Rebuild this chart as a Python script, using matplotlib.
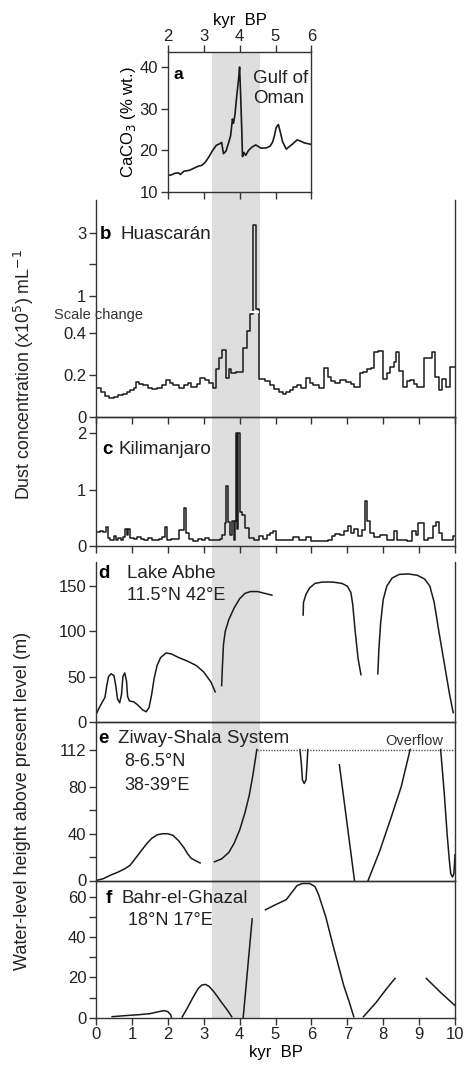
import numpy as np
import matplotlib
matplotlib.use("Agg")
import matplotlib.pyplot as plt
from matplotlib.patches import Rectangle
from matplotlib.transforms import blended_transform_factory

plt.rcParams['font.family'] = ['Liberation Sans', 'DejaVu Sans']

# ---------------- data ----------------
# a: Gulf of Oman CaCO3 (% wt.)
oman_age = [2.0, 2.1, 2.2, 2.3, 2.35, 2.45, 2.6, 2.75, 2.85, 2.95, 3.05, 3.15, 3.25, 3.35, 3.45, 3.5,
            3.55, 3.62, 3.7, 3.75, 3.8, 3.83, 3.87, 3.92, 3.97, 4.0, 4.03, 4.06, 4.08, 4.12, 4.17,
            4.25, 4.35, 4.45, 4.6, 4.75, 4.85, 4.92, 4.97, 5.02, 5.08, 5.13, 5.2, 5.3, 5.4, 5.5,
            5.6, 5.7, 5.8, 5.9, 6.0]
oman_caco3 = [14.0, 14.1, 14.5, 14.6, 14.2, 15.0, 15.2, 15.8, 16.2, 16.4, 17.2, 18.5, 20.0, 21.2, 21.6, 21.9,
              19.2, 19.8, 22.0, 23.5, 27.5, 26.5, 28.5, 33.0, 37.0, 40.0, 33.0, 25.0, 18.5, 19.5, 18.8,
              20.0, 20.8, 21.3, 20.5, 20.6, 21.0, 22.0, 23.5, 25.5, 26.2, 24.5, 22.0, 20.3, 21.0, 21.7,
              22.5, 22.2, 21.8, 21.6, 21.4]

# b: Huascaran dust (step starts)
huas_age = [0.0, 0.15, 0.25, 0.35, 0.5, 0.6, 0.75, 0.85, 0.95, 1.05, 1.12, 1.2, 1.3, 1.45, 1.55, 1.7,
            1.85, 1.95, 2.05, 2.15, 2.3, 2.45, 2.55, 2.65, 2.8, 2.9, 3.05, 3.15, 3.25, 3.33, 3.42,
            3.52, 3.62, 3.7, 3.77, 3.9, 4.1, 4.2, 4.3, 4.37, 4.45, 4.55, 4.7, 4.85, 4.95, 5.1,
            5.2, 5.3, 5.4, 5.5, 5.6, 5.72, 5.85, 5.95, 6.05, 6.2, 6.35, 6.45, 6.55, 6.65, 6.8,
            6.95, 7.1, 7.2, 7.35, 7.45, 7.55, 7.65, 7.75, 7.85, 8.0, 8.1, 8.2, 8.3, 8.35, 8.45,
            8.55, 8.65, 8.75, 8.85, 8.95, 9.15, 9.3, 9.35, 9.45, 9.55, 9.65, 9.75, 9.85, 10.0]
huas_dust = [0.14, 0.12, 0.10, 0.09, 0.095, 0.105, 0.11, 0.12, 0.13, 0.14, 0.165, 0.155, 0.15, 0.14,
             0.135, 0.14, 0.15, 0.175, 0.16, 0.15, 0.14, 0.15, 0.16, 0.145, 0.155, 0.185, 0.175,
             0.16, 0.14, 0.23, 0.28, 0.32, 0.185, 0.23, 0.21, 0.215, 0.33, 0.41, 0.49, 3.25, 0.6,
             0.18, 0.17, 0.15, 0.135, 0.12, 0.11, 0.12, 0.13, 0.145, 0.15, 0.14, 0.185, 0.16, 0.15,
             0.14, 0.235, 0.19, 0.17, 0.16, 0.175, 0.165, 0.155, 0.145, 0.21, 0.215, 0.23, 0.235,
             0.31, 0.315, 0.18, 0.21, 0.24, 0.26, 0.31, 0.22, 0.145, 0.17, 0.175, 0.155, 0.145,
             0.28, 0.28, 0.31, 0.19, 0.13, 0.18, 0.145, 0.24, 0.24]

# c: Kilimanjaro dust (step starts)
kili_age = [0.0, 0.1, 0.2, 0.28, 0.33, 0.4, 0.5, 0.55, 0.62, 0.7, 0.75, 0.8, 0.85, 0.88, 0.95, 1.05,
            1.15, 1.25, 1.35, 1.45, 1.55, 1.65, 1.75, 1.85, 1.92, 1.98, 2.1, 2.2, 2.3, 2.45, 2.52,
            2.6, 2.7, 2.85, 2.95, 3.05, 3.15, 3.3, 3.45, 3.52, 3.58, 3.62, 3.68, 3.74, 3.78, 3.84,
            3.87, 3.9, 3.94, 3.96, 4.0, 4.08, 4.15, 4.25, 4.4, 4.55, 4.65, 4.75, 4.85, 4.93, 5.0,
            5.15, 5.3, 5.5, 5.65, 5.85, 6.0, 6.2, 6.45, 6.58, 6.65, 6.8, 6.92, 7.02, 7.1, 7.2,
            7.3, 7.4, 7.5, 7.56, 7.63, 7.75, 7.9, 8.1, 8.3, 8.38, 8.5, 8.65, 8.8, 8.9, 8.97,
            9.15, 9.25, 9.4, 9.48, 9.55, 9.65, 9.8, 9.95, 10.0]
kili_dust = [0.25, 0.27, 0.25, 0.34, 0.15, 0.11, 0.17, 0.10, 0.14, 0.10, 0.16, 0.30, 0.20, 0.30, 0.14,
             0.12, 0.16, 0.12, 0.10, 0.14, 0.11, 0.10, 0.13, 0.16, 0.34, 0.11, 0.13, 0.12, 0.28,
             0.68, 0.23, 0.13, 0.08, 0.13, 0.10, 0.14, 0.10, 0.10, 0.12, 0.20, 0.41, 1.07, 0.43,
             0.20, 0.45, 0.10, 0.45, 2.0, 0.30, 2.0, 0.61, 0.55, 0.32, 0.14, 0.10, 0.17, 0.13,
             0.20, 0.23, 0.27, 0.11, 0.10, 0.11, 0.16, 0.10, 0.16, 0.08, 0.09, 0.10, 0.17, 0.22,
             0.20, 0.26, 0.35, 0.23, 0.30, 0.17, 0.28, 0.80, 0.45, 0.23, 0.16, 0.20, 0.10, 0.27,
             0.10, 0.11, 0.08, 0.27, 0.20, 0.41, 0.11, 0.14, 0.35, 0.43, 0.23, 0.11, 0.10, 0.17, 0.17]

# d: Lake Abhe (segments)
abhe_age = [
    [0.0, 0.11, 0.25, 0.3, 0.35, 0.42, 0.5, 0.55, 0.6, 0.66, 0.71, 0.75, 0.8, 0.85, 0.88, 0.93, 1.05,
     1.15, 1.3, 1.4, 1.48, 1.55, 1.62, 1.7, 1.8, 1.95, 2.1, 2.3, 2.55, 2.8, 3.0, 3.2, 3.32],
    [3.5, 3.52, 3.55, 3.6, 3.7, 3.85, 4.0, 4.15, 4.3, 4.5, 4.7, 4.9],
    [5.77, 5.78, 5.85, 5.95, 6.1, 6.3, 6.6, 6.85, 7.0, 7.1, 7.15, 7.22, 7.3, 7.38],
    [7.85, 7.88, 7.93, 8.0, 8.1, 8.25, 8.45, 8.7, 8.95, 9.15, 9.3, 9.42, 9.55, 9.7, 9.85, 9.95],
]
abhe_level = [
    [8, 17, 27, 40, 50, 53, 51, 40, 25, 21, 30, 50, 54, 45, 28, 23, 22,
     19, 13, 11, 16, 30, 48, 62, 71, 76, 75, 71, 67, 62, 55, 44, 33],
    [40, 60, 85, 100, 113, 126, 136, 142, 144, 144, 142, 140],
    [118, 132, 141, 148, 153, 154.5, 154.5, 153, 150, 143, 130, 100, 70, 52],
    [53, 80, 110, 135, 150, 159, 163, 163.5, 162, 158, 150, 132, 100, 65, 30, 10],
]

# e: Ziway-Shala (segments)
ziway_age = [
    [0.0, 0.2, 0.4, 0.6, 0.8, 0.95, 1.1, 1.25, 1.4, 1.55, 1.7, 1.85, 2.0, 2.15, 2.3, 2.45, 2.55,
     2.65, 2.8, 2.9],
    [3.3, 3.5, 3.7, 3.85, 4.0, 4.15, 4.27, 4.37, 4.45, 4.48],
    [5.68, 5.72, 5.75, 5.8, 5.85, 5.88, 5.9],
    [6.78, 7.2],
    [7.58, 7.9, 8.2, 8.5, 8.75],
    [9.6, 9.7, 9.78, 9.84, 9.88, 9.93, 9.97, 10.0],
]
ziway_level = [
    [0, 1.5, 4.5, 7, 10, 13, 19, 25, 31, 36, 39, 40, 40, 38.5, 34, 28, 23, 19, 16.5, 15],
    [16, 18.5, 24, 32, 43, 58, 73, 90, 106, 112],
    [112, 100, 86, 83, 86, 100, 112],
    [99, 0],
    [0, 25, 52, 80, 112],
    [112, 75, 40, 18, 6, 3, 6, 22],
]
overflow_level = 112
overflow_start = 4.48

# f: Bahr-el-Ghazal (segments)
bahr_age = [
    [0.45, 0.8, 1.2, 1.5, 1.75, 1.9, 2.0, 2.08, 2.1],
    [2.4, 2.55, 2.7, 2.85, 2.95, 3.05, 3.15, 3.3, 3.5, 3.65, 3.78],
    [4.1, 4.35],
    [4.72, 5.0, 5.3, 5.45, 5.6, 5.75, 5.95, 6.1, 6.2, 6.4, 6.6, 6.75, 6.9, 7.05, 7.18],
    [7.45, 7.8, 8.1, 8.33],
    [9.2, 9.6, 10.0],
]
bahr_level = [
    [0.5, 1.0, 1.5, 2.0, 3.0, 3.5, 3.0, 1.5, 0.3],
    [0.3, 5, 10, 14.5, 16.2, 16.5, 15.5, 12.5, 7.5, 4, 0.5],
    [0, 49],
    [53.5, 56, 58.5, 62, 65.5, 66.5, 66.5, 65, 61, 50, 36, 26, 16, 8, 0.5],
    [0.5, 7.5, 14.5, 19.5],
    [19.5, 12.5, 6],
]

shade_start, shade_end = 3.22, 4.56

# ---------------- figure ----------------
W, H = 465, 1074
fig = plt.figure(figsize=(W / 100, H / 100), dpi=100)

def box(l, r, t, b):
    return [l / W, 1 - b / H, (r - l) / W, (b - t) / H]

LINE = '#1a1a1a'
SPINE = '#333333'
TXT = '#222222'
TICKFS = 12
LABFS = 13.5
LW = 1.1

def style(ax):
    ax.set_facecolor('none')
    for s in ax.spines.values():
        s.set_color(SPINE)
        s.set_linewidth(1.0)
    ax.tick_params(direction='out', length=5, width=1.0, color=SPINE, labelsize=TICKFS,
                   labelcolor=TXT, pad=2)

XL, XR = 96, 455
ax_a = fig.add_axes(box(167.8, 311.4, 52, 192))
ax_b = fig.add_axes(box(XL, XR, 200, 417))
ax_c = fig.add_axes(box(XL, XR, 417, 546))
ax_d = fig.add_axes(box(XL, XR, 562, 721.7))
ax_e = fig.add_axes(box(XL, XR, 721.7, 880.5))
ax_f = fig.add_axes(box(XL, XR, 880.5, 1017.7))
for ax in (ax_a, ax_b, ax_c, ax_d, ax_e, ax_f):
    style(ax)

# shaded band across all panels
trans = blended_transform_factory(ax_f.transData, fig.transFigure)
fig.add_artist(Rectangle((shade_start, 1 - 1017.7 / H), shade_end - shade_start,
                         (1017.7 - 52) / H, transform=trans, facecolor='#dedede',
                         edgecolor='none', zorder=-5))

# ---- panel a ----
ax_a.plot(oman_age, oman_caco3, color=LINE, lw=1.2)
ax_a.set_xlim(2, 6)
ax_a.set_ylim(10, 43.6)
ax_a.set_yticks([10, 20, 30, 40])
ax_a.set_xticks([2, 3, 4, 5, 6])
ax_a.tick_params(axis='x', top=True, labeltop=True, bottom=True, labelbottom=False, pad=1)
ax_a.xaxis.set_label_position('top')
ax_a.set_xlabel('kyr  BP', fontsize=TICKFS, labelpad=3)
ax_a.set_ylabel('CaCO$_3$ (% wt.)', fontsize=TICKFS, labelpad=1)
ax_a.text(2.15, 38.3, 'a', fontsize=LABFS - 1, fontweight='bold', va='center', ha='left')
ax_a.text(4.37, 37.3, 'Gulf of', fontsize=LABFS, va='center', ha='left', color=TXT)
ax_a.text(4.37, 32.4, 'Oman', fontsize=LABFS, va='center', ha='left', color=TXT)

# ---- panel b (scale change at 0.5) ----
BRK = 0.5
K = 31.65 / 210.0

def fwd(y):
    y = np.asarray(y, dtype=float)
    return np.where(y <= BRK, y, BRK + (y - BRK) * K)

def inv(y):
    y = np.asarray(y, dtype=float)
    return np.where(y <= BRK, y, BRK + (y - BRK) / K)

ax_b.set_yscale('function', functions=(fwd, inv))
ax_b.step(huas_age, huas_dust, where='post', color=LINE, lw=LW)
ax_b.set_xlim(0, 10)
ax_b.set_ylim(0, 4.03)
ax_b.set_yticks([0, 0.2, 0.4, 1, 2, 3])
ax_b.set_yticklabels(['0', '0.2', '0.4', '1', '', '3'])
ax_b.yaxis.set_minor_locator(matplotlib.ticker.NullLocator())
ax_b.set_xticks(range(11))
ax_b.tick_params(axis='x', labelbottom=False)
ax_b.spines['top'].set_visible(False)
ax_b.plot([4.33, 4.5], [BRK, BRK], color='white', lw=1.5, zorder=5)
tb = blended_transform_factory(ax_b.transData, ax_b.transAxes)
ax_b.text(0.11, 0.84, 'b', transform=tb, fontsize=LABFS, fontweight='bold',
          va='center', ha='left')
ax_b.text(0.69, 0.84, 'Huascarán', transform=tb, fontsize=LABFS, va='center',
          ha='left', color=TXT)
fig.text(54 / W, 1 - 315 / H, 'Scale change', fontsize=10.5, color='#333333', va='center',
         ha='left')

# ---- panel c ----
ax_c.step(kili_age, kili_dust, where='post', color=LINE, lw=LW)
ax_c.set_xlim(0, 10)
ax_c.set_ylim(0, 2.29)
ax_c.set_yticks([0, 1, 2])
ax_c.set_xticks(range(11))
ax_c.tick_params(axis='x', labelbottom=False)
ax_c.text(0.17, 1.71, 'c', fontsize=LABFS, fontweight='bold', va='center', ha='left')
ax_c.text(0.62, 1.71, 'Kilimanjaro', fontsize=LABFS, va='center', ha='left', color=TXT)

# ---- panel d ----
for xs, ys in zip(abhe_age, abhe_level):
    ax_d.plot(xs, ys, color=LINE, lw=LW)
ax_d.set_xlim(0, 10)
ax_d.set_ylim(0, 176.7)
ax_d.set_yticks([0, 50, 100, 150])
ax_d.set_xticks([])
ax_d.spines['top'].set_visible(False)
ax_d.text(0.05, 164, 'd', fontsize=LABFS, fontweight='bold', va='center', ha='left')
ax_d.text(0.85, 164, 'Lake Abhe', fontsize=LABFS, va='center', ha='left', color=TXT)
ax_d.text(0.85, 140, '11.5°N 42°E', fontsize=LABFS - 0.5, va='center', ha='left', color=TXT)

# ---- panel e ----
for xs, ys in zip(ziway_age, ziway_level):
    ax_e.plot(xs, ys, color=LINE, lw=LW)
ax_e.plot([overflow_start, 10], [overflow_level, overflow_level], color='#555555', lw=1.0,
          ls=(0, (1, 1)))
ax_e.set_xlim(0, 10)
ax_e.set_ylim(0, 135.8)
ax_e.set_yticks([0, 20, 40, 60, 80, 112])
ax_e.set_yticklabels(['0', '', '40', '', '80', '112'])
ax_e.set_xticks([])
ax_e.text(0.07, 121.7, 'e', fontsize=LABFS, fontweight='bold', va='center', ha='left')
ax_e.text(0.62, 121.7, 'Ziway-Shala System', fontsize=LABFS, va='center', ha='left', color=TXT)
ax_e.text(0.8, 101.5, '8-6.5°N', fontsize=LABFS - 0.5, va='center', ha='left', color=TXT)
ax_e.text(0.8, 81.6, '38-39°E', fontsize=LABFS - 0.5, va='center', ha='left', color=TXT)
ax_e.text(9.68, 113, 'Overflow', fontsize=10.5, va='bottom', ha='right', color='#333333')

# ---- panel f ----
for xs, ys in zip(bahr_age, bahr_level):
    ax_f.plot(xs, ys, color=LINE, lw=LW)
ax_f.set_xlim(0, 10)
ax_f.set_ylim(0, 68)
ax_f.set_yticks([0, 10, 20, 30, 40, 50, 60])
ax_f.set_yticklabels(['0', '', '20', '', '40', '', '60'])
ax_f.set_xticks(range(11))
ax_f.set_xlabel('kyr  BP', fontsize=TICKFS, labelpad=2)
ax_f.text(0.28, 59.3, 'f', fontsize=LABFS, fontweight='bold', va='center', ha='left')
ax_f.text(0.72, 59.3, 'Bahr-el-Ghazal', fontsize=LABFS, va='center', ha='left', color=TXT)
ax_f.text(0.9, 48.4, '18°N 17°E', fontsize=LABFS - 0.5, va='center', ha='left', color=TXT)

# shared y labels
fig.text(24 / W, 1 - 375 / H, 'Dust concentration (x10$^5$) mL$^{-1}$', rotation=90,
         fontsize=12.8, va='center', ha='center', color=TXT)
fig.text(23 / W, 1 - 801 / H, 'Water-level height above present level (m)', rotation=90,
         fontsize=13, va='center', ha='center', color=TXT)

fig.savefig('out.png', dpi=100)
